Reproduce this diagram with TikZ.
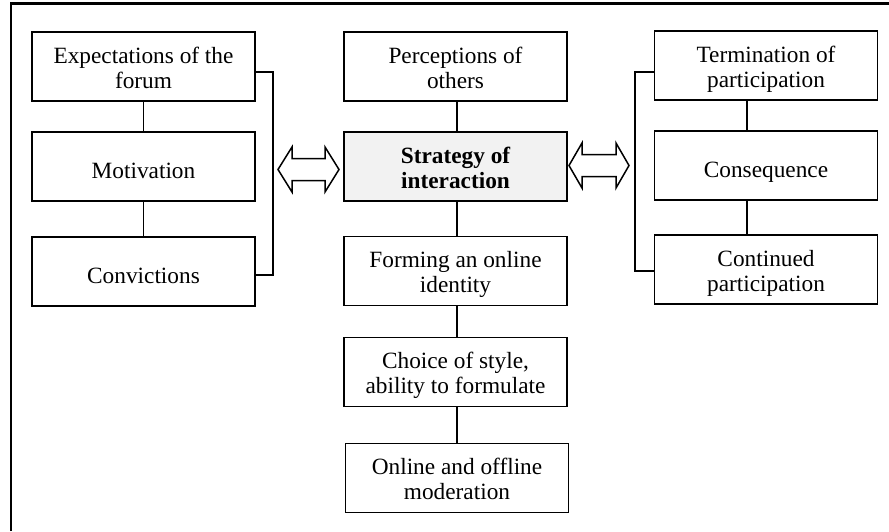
\documentclass[tikz,border=0pt]{standalone}
\usepackage{fontspec}
\setmainfont{Liberation Serif}
\usetikzlibrary{calc}
\definecolor{boxgray}{HTML}{F2F2F2}
\begin{document}
\begin{tikzpicture}[x=1pt,y=-1pt,
  box/.style={draw=black, line width=1.9pt, minimum width=223pt, minimum height=69pt,
    inner sep=0pt, align=center, font=\fontsize{23.3}{25}\selectfont},
  twoline/.style={text height=43pt, text depth=0pt},
  oneline/.style={text height=23pt, text depth=0pt},
  conn/.style={draw=black, line width=1.5pt},
  blockarrow/.style={draw=black, line width=1.5pt, fill=white, line join=miter}]
\useasboundingbox (0,0) rectangle (889,531);
% frame (only top and left edges visible)
\draw[line width=2.2pt] (11,531) -- (11,3.5) -- (889,3.5);
% left column
\node[box, twoline] (L1) at (143.5,66.5) {Expectations of the\\forum};
\node[box, oneline] (L2) at (143.5,166.5) {Motivation};
\node[box, oneline] (L3) at (143.5,271.5) {Convictions};
% centre column
\node[box, twoline] (C1) at (455.5,66.5) {Perceptions of\\others};
\node[box, twoline, fill=boxgray] (C2) at (455.5,166.5) {\bfseries Strategy of\\\bfseries interaction};
\node[box, twoline] (C3) at (455.5,271) {Forming an online\\identity};
\node[box, twoline] (C4) at (455.5,372) {Choice of style,\\ability to formulate};
\node[box, twoline] (C5) at (457,478) {Online and offline\\moderation};
% vertical connectors
\draw[conn] (L1.south) -- (L2.north);
\draw[conn] (L2.south) -- (L3.north);
\draw[conn] (C1.south -| 457,0) -- (C2.north -| 457,0);
\draw[conn] (C2.south -| 457,0) -- (C3.north -| 457,0);
\draw[conn] (C3.south -| 457,0) -- (C4.north -| 457,0);
\draw[conn] (C4.south -| 457,0) -- (C5.north -| 457,0);
% right column
\node[box, twoline] (R1) at (766,65.5) {Termination of\\participation};
\node[box, oneline] (R2) at (766,165.5) {Consequence};
\node[box, twoline] (R3) at (766,269.5) {Continued\\participation};
\draw[conn] (R1.south -| 747,0) -- (R2.north -| 747,0);
\draw[conn] (R2.south -| 747,0) -- (R3.north -| 747,0);
% brackets
\draw[conn] (L1.east |- 0,72) -- (273,72) -- (273,275) -- (L3.east |- 0,275);
\draw[conn] (R1.west |- 0,72) -- (635,72) -- (635,271) -- (R3.west |- 0,271);
% double block arrows
\coordinate (la) at (278,169.5);
\coordinate (lb) at (339,169.5);
\draw[blockarrow] (la) -- ++(14,-22.5) -- ++(0,11.5) -- ($(lb)+(-14,-11)$) -- ++(0,-11.5) -- (lb)
  -- ++(-14,22.5) -- ++(0,-11.5) -- ($(la)+(14,11)$) -- ++(0,11.5) -- cycle;
\coordinate (ra) at (569,165.5);
\coordinate (rb) at (629,165.5);
\draw[blockarrow] (ra) -- ++(13,-22.5) -- ++(0,11.5) -- ($(rb)+(-13,-11)$) -- ++(0,-11.5) -- (rb)
  -- ++(-13,22.5) -- ++(0,-11.5) -- ($(ra)+(13,11)$) -- ++(0,11.5) -- cycle;
\end{tikzpicture}
\end{document}
